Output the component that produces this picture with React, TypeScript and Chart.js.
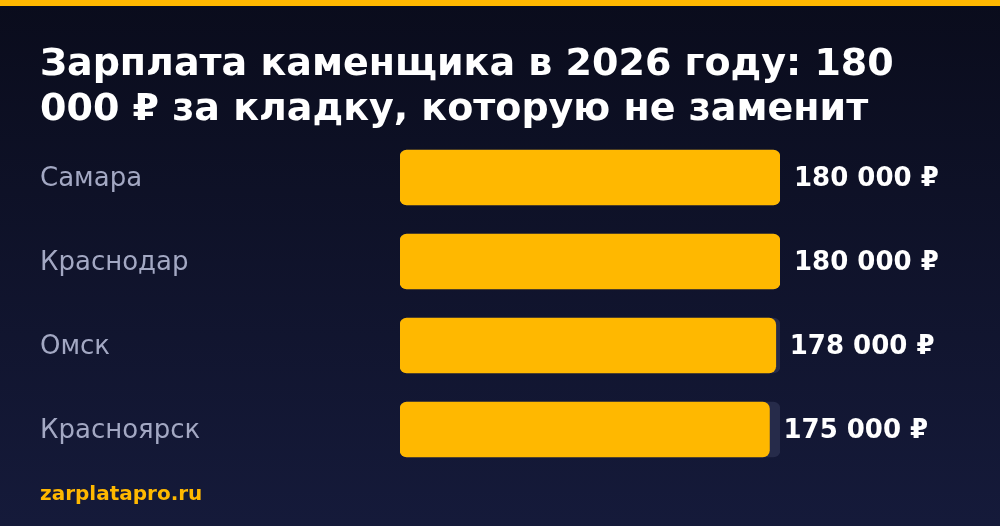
import React, { useEffect, useRef } from "react";
import { Chart, registerables } from "chart.js";

Chart.register(...registerables);

const categories = ["Самара", "Краснодар", "Омск", "Красноярск"];
const salaries = [180000, 180000, 178000, 175000];
const trackValues = [180000, 180000, 180000, 180000];
const titleLines = ["Зарплата каменщика в 2026 году: 180", "000 ₽ за кладку, которую не заменит"];
const sourceLabel = "zarplatapro.ru";
const axisMax = 180000;

const FONT = "'DejaVu Sans', sans-serif";
const AMBER = "#FFB800";

function formatRub(n: number): string {
  return String(n).replace(/\B(?=(\d{3})+(?!\d))/g, " ") + " ₽";
}

const decorPlugin = {
  id: "decor",
  beforeDraw(chart: any) {
    const { ctx, width, height } = chart;
    ctx.save();
    const g = ctx.createLinearGradient(0, 0, 0, height);
    g.addColorStop(0, "#0a0c1c");
    g.addColorStop(1, "#151a3a");
    ctx.fillStyle = g;
    ctx.fillRect(0, 0, width, height);
    ctx.fillStyle = AMBER;
    ctx.fillRect(0, 0, width, 6);
    ctx.fillStyle = "#ffffff";
    ctx.font = `bold 38px ${FONT}`;
    ctx.textBaseline = "middle";
    ctx.textAlign = "left";
    titleLines.forEach((line, i) => ctx.fillText(line, 40, 65 + i * 45));
    ctx.fillStyle = AMBER;
    ctx.font = `bold 20px ${FONT}`;
    ctx.fillText(sourceLabel, 40, 495);
    ctx.restore();
  },
  afterDatasetsDraw(chart: any) {
    const { ctx } = chart;
    const meta = chart.getDatasetMeta(0);
    ctx.save();
    ctx.fillStyle = "#ffffff";
    ctx.font = `bold 26px ${FONT}`;
    ctx.textBaseline = "middle";
    ctx.textAlign = "left";
    meta.data.forEach((el: any, i: number) => {
      ctx.fillText(formatRub(salaries[i]), el.x + 14, el.y + 1.5);
    });
    ctx.restore();
  },
};

export default function App() {
  const ref = useRef<HTMLCanvasElement | null>(null);
  useEffect(() => {
    if (!ref.current) return;
    const chart = new Chart(ref.current, {
      type: "bar",
      data: {
        labels: categories,
        datasets: [
          {
            data: salaries,
            backgroundColor: AMBER,
            grouped: false,
            barThickness: 55,
            borderRadius: 7,
            borderSkipped: false,
          } as any,
          {
            data: trackValues,
            backgroundColor: "#262b4a",
            grouped: false,
            barThickness: 55,
            borderRadius: 7,
            borderSkipped: false,
          } as any,
        ],
      },
      options: {
        indexAxis: "y",
        responsive: false,
        animation: false,
        layout: { padding: { left: 40, right: 220, top: 135.5, bottom: 54.5 } },
        plugins: { legend: { display: false }, tooltip: { enabled: false }, title: { display: false } },
        scales: {
          x: { display: false, min: 0, max: axisMax },
          y: {
            grid: { display: false },
            border: { display: false },
            afterFit(scale: any) {
              scale.width = 360;
            },
            ticks: {
              crossAlign: "far",
              padding: 0,
              labelOffset: 2,
              color: "#a3a8c3",
              font: { family: FONT, size: 26 },
            },
          },
        },
      },
      plugins: [decorPlugin],
    });
    return () => chart.destroy();
  }, []);
  return (
    <div style={{ position: "absolute", left: 0, top: 0, width: 1000, height: 526 }}>
      <canvas ref={ref} width={1000} height={526} style={{ display: "block" }} />
    </div>
  );
}
